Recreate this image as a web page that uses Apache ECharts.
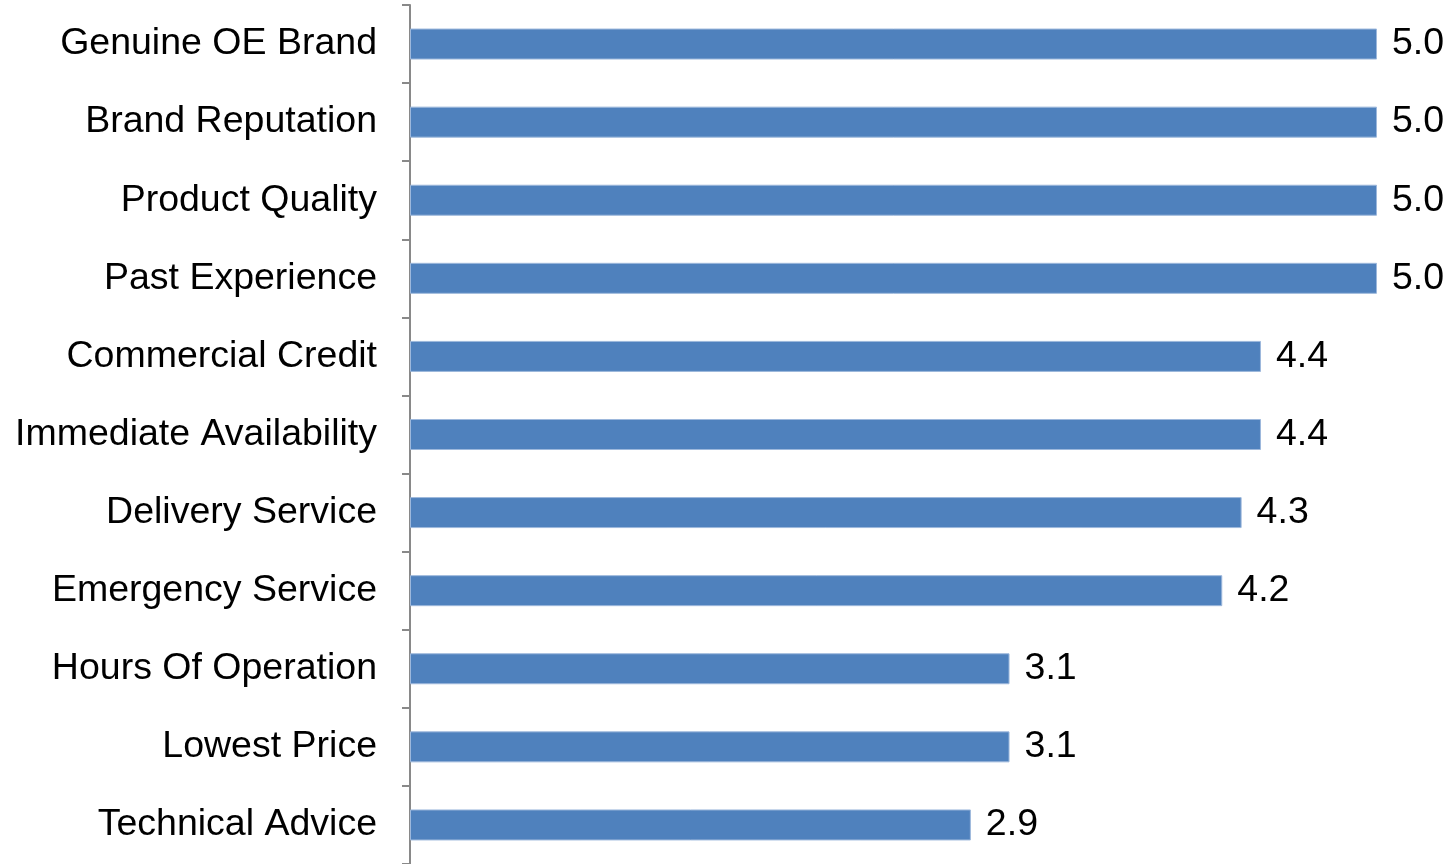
<!DOCTYPE html>
<html>
<head>
<meta charset="utf-8">
<script src="https://cdn.jsdelivr.net/npm/echarts@6/dist/echarts.min.js"></script>
<style>
html,body{margin:0;padding:0;background:#fff;}
#chart{width:1450px;height:864px;}
</style>
</head>
<body>
<div id="chart"></div>
<script>
const categories = [
  "Genuine OE Brand",
  "Brand Reputation",
  "Product Quality",
  "Past Experience",
  "Commercial Credit",
  "Immediate Availability",
  "Delivery Service",
  "Emergency Service",
  "Hours Of Operation",
  "Lowest Price",
  "Technical Advice"
];
const values = [5.0, 5.0, 5.0, 5.0, 4.4, 4.4, 4.3, 4.2, 3.1, 3.1, 2.9];

const chart = echarts.init(document.getElementById('chart'));
chart.setOption({
  animation: false,
  grid: { left: 410, right: 73, top: 5, bottom: 0, containLabel: false },
  xAxis: {
    type: 'value', min: 0, max: 5, show: false
  },
  yAxis: {
    type: 'category',
    inverse: true,
    data: categories,
    axisLine: { show: true, lineStyle: { color: '#898989', width: 2 } },
    axisTick: { show: true, length: 8, lineStyle: { color: '#898989', width: 2 } },
    axisLabel: {
      margin: 33,
      fontFamily: 'Liberation Sans, Arial, sans-serif',
      fontSize: 37.5,
      color: '#000',
      padding: [4, 0, 0, 0]
    },
    splitLine: { show: false }
  },
  series: [{
    type: 'bar',
    data: values,
    barWidth: 31,
    itemStyle: { color: '#4F81BD', borderColor: '#9DB8DC', borderWidth: 1 },
    label: {
      show: true,
      position: 'right',
      distance: 15,
      formatter: p => p.value.toFixed(1),
      fontFamily: 'Liberation Sans, Arial, sans-serif',
      fontSize: 37.5,
      color: '#000',
      padding: [4, 0, 0, 0]
    }
  }]
});
</script>
</body>
</html>
